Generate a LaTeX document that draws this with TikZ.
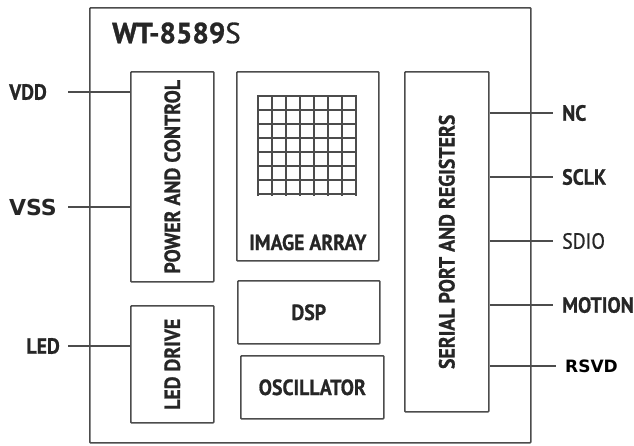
\documentclass[tikz,border=0pt]{standalone}
\usepackage{fontspec}
\setmainfont{PT Sans}
\newfontfamily\condfont[FakeStretch=0.9,FakeBold=0.8]{PT Sans}
\newfontfamily\titlefont[FakeBold=1]{PT Sans}
\newfontfamily\widefont{DejaVu Sans}
\usepackage{tikz}
\usetikzlibrary{calc,positioning}

\tikzset{
  blk/.style={draw=black!70,line width=1.6pt,rounded corners=0.8pt,inner sep=0pt},
  lbl/.style={font=\condfont\bfseries\fontsize{22}{22}\selectfont,text=black!85,inner sep=0pt},
  pinlbl/.style={lbl,anchor=west},
  wire/.style={draw=black!70,line width=1.4pt}
}

\begin{document}
\begin{tikzpicture}[x=1pt,y=-1pt]
\useasboundingbox (0,0) rectangle (634,445);
% chip outline
\node[blk,anchor=north west,minimum width=441pt,minimum height=435pt] (chip) at (89,7) {};
\node[lbl,anchor=west,font=\titlefont\fontsize{29}{29}\selectfont] (title) at (112,33) {\bfseries WT-8589\mdseries S};
% blocks
\node[blk,anchor=north west,minimum width=83pt,minimum height=210pt] (pwr) at (130,71) {};
\node[lbl,rotate=90] at (pwr) {POWER AND CONTROL};
\node[blk,anchor=north west,minimum width=83pt,minimum height=117pt] (led) at (130,305) {};
\node[lbl,rotate=90] at (led) {LED DRIVE};
\node[blk,anchor=north west,minimum width=142pt,minimum height=189pt] (img) at (236,71) {};
\node[lbl,anchor=south] at ($(img.south)+(0,-11)$) {IMAGE ARRAY};
\node[blk,anchor=north west,minimum width=142pt,minimum height=63pt] (dsp) at (237,280) {};
\node[lbl] at (dsp) {DSP};
\node[blk,anchor=north west,minimum width=143pt,minimum height=63pt] (osc) at (240,355) {};
\node[lbl] at (osc) {OSCILLATOR};
\node[blk,anchor=north west,minimum width=84pt,minimum height=340pt] (ser) at (404,71) {};
\node[lbl,rotate=90] at (ser) {SERIAL PORT AND REGISTERS};
% pixel grid
\foreach \i in {0,...,7} {
  \draw[black!70,line width=1.5pt] (258+\i*14,96) -- (258+\i*14,196);
  \draw[black!70,line width=1.5pt] (257,96+\i*14) -- (357,96+\i*14);
}
% left pins
\node[lbl,anchor=east] (vdd) at (47,92) {VDD};
\node[lbl,anchor=east,font=\widefont\bfseries\fontsize{22}{22}\selectfont] (vss) at (57,207) {VSS};
\node[lbl,anchor=east] (ledp) at (60,346) {LED};
\draw[wire] ($(vdd.east)+(21,0)$) -- (vdd.east -| pwr.west);
\draw[wire] ($(vss.east)+(11,0)$) -- (vss.east -| pwr.west);
\draw[wire] ($(ledp.east)+(8,0)$) -- (ledp.east -| led.west);
% right pins
\node[pinlbl] (nc) at (562,113) {NC};
\node[pinlbl] (sclk) at (562,177) {SCLK};
\node[pinlbl,font=\condfont\mdseries\fontsize{22}{22}\selectfont] (sdio) at (562,241) {SDIO};
\node[pinlbl] (mot) at (562,305) {MOTION};
\node[pinlbl,font=\widefont\bfseries\fontsize{17}{17}\selectfont,text=black] (rsvd) at (565,366) {RSVD};
\foreach \p in {nc,sclk,sdio,mot,rsvd}
  \draw[wire] (\p.west -| ser.east) -- ($(\p.west)+(-9,0)$);
\end{tikzpicture}
\end{document}
